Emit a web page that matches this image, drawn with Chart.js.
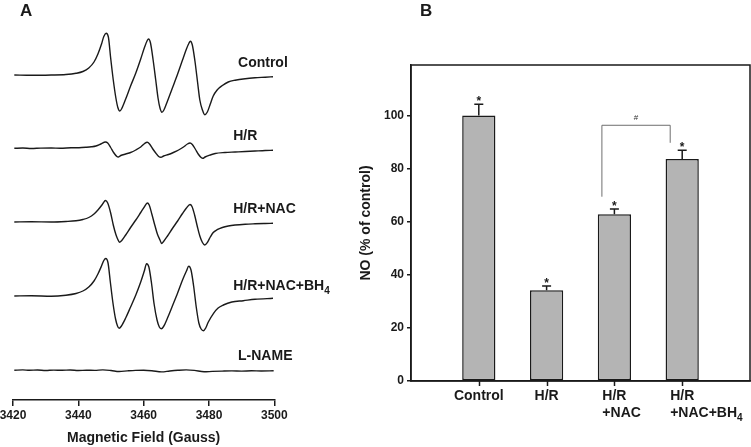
<!DOCTYPE html>
<html>
<head>
<meta charset="utf-8">
<script src="https://cdn.jsdelivr.net/npm/chart.js@4.4.1/dist/chart.umd.min.js"></script>
<style>
  html, body { margin: 0; padding: 0; background: #fff; }
  #wrap { position: relative; width: 751px; height: 447px; }
  #wrap canvas { position: absolute; left: 0; top: 0; }
</style>
</head>
<body>
<div id="wrap">
  <canvas id="epr" width="751" height="447"></canvas>
  <canvas id="bars" width="751" height="447"></canvas>
</div>
<script>
// ---- Panel A: EPR spectra, [field (G), signal (a.u., from own baseline)]
const fieldTicks = [3420, 3440, 3460, 3480, 3500];
const traceNames = ['Control', 'H/R', 'H/R+NAC', 'H/R+NAC+BH₄', 'L-NAME'];

const controlTrace = [
  [3420.4, 0], [3425.6, -0.3], [3431.7, 0], [3436.2, 0.5], [3439.3, 1.7], [3441.4, 3.5],
  [3443.2, 7], [3444.8, 13], [3446.0, 21], [3447.1, 31], [3447.8, 38.5], [3448.5, 41.7],
  [3449.2, 38], [3449.9, 17], [3450.7, -5], [3451.5, -23], [3452.1, -32.5], [3452.7, -36],
  [3453.3, -33.5], [3454.5, -24], [3456.0, -11], [3457.6, 2], [3459.1, 16], [3460.3, 28],
  [3461.1, 34.5], [3461.5, 36], [3462.1, 32], [3462.9, 15], [3463.7, -5], [3464.4, -23],
  [3465.0, -33], [3465.6, -37.3], [3466.2, -35], [3467.3, -26], [3468.8, -13], [3470.4, 1],
  [3471.9, 15], [3473.1, 26], [3473.9, 32], [3474.3, 33.7], [3474.9, 30], [3475.7, 14],
  [3476.5, -7], [3477.2, -25], [3478.0, -35], [3478.7, -39.7], [3479.5, -37], [3480.4, -29],
  [3481.3, -21], [3482.5, -15], [3484.1, -10.5], [3485.9, -7], [3488.0, -5.2], [3491.1, -3.7],
  [3494.1, -2.8], [3497.2, -2.2], [3499.6, -1.7]
];
const hrTrace = [
  [3420.4, 0], [3423, 0.3], [3425.6, -0.2], [3428.5, 0.2], [3431.7, 0.3], [3434.5, 0],
  [3437.8, 0.5], [3440.2, 0.6], [3442.3, 1], [3444.0, 1.5], [3445.4, 2.3], [3446.9, 4.3],
  [3448.3, 6.3], [3449.0, 5.3], [3449.9, 0.8], [3450.8, -4.2], [3451.8, -8.2], [3452.2, -8.7],
  [3453.0, -7.2], [3454.5, -5.7], [3456.0, -4.2], [3457.6, -1.7], [3459.1, 1.3], [3460.3, 4.8],
  [3461.1, 6], [3461.8, 4.3], [3462.7, -0.2], [3463.7, -4.7], [3464.6, -8.2], [3465.3, -9],
  [3466.1, -7.7], [3467.6, -6.2], [3469.1, -4.2], [3470.7, -1.7], [3472.2, 1.3], [3473.4, 4.3],
  [3474.2, 5.3], [3474.9, 3.8], [3475.8, -0.7], [3476.7, -5.7], [3477.6, -9.2], [3478.1, -10],
  [3478.8, -8.7], [3480.4, -6.7], [3481.9, -5.2], [3484.9, -4.2], [3488.0, -3.7], [3491.1, -3.2],
  [3494.1, -2.7], [3497.2, -2.2], [3499.6, -2]
];
const nacTrace = [
  [3420.4, 0], [3425.6, 0.3], [3431.7, 0], [3436.2, 0.5], [3439.3, 1.2], [3441.4, 2.5],
  [3443.2, 4.5], [3444.8, 8], [3446.0, 12], [3447.1, 16.5], [3447.8, 19.8], [3448.3, 21.5],
  [3449.0, 19], [3449.9, 9], [3450.7, -3], [3451.5, -12.5], [3452.1, -17.5], [3452.6, -20.3],
  [3453.3, -18.5], [3454.5, -13], [3456.0, -5.5], [3457.6, 2], [3459.1, 9.5], [3460.3, 15.5],
  [3461.1, 19], [3461.7, 17], [3462.5, 8], [3463.4, -3], [3464.2, -12], [3465.0, -18],
  [3465.5, -21.5], [3466.1, -19.5], [3467.3, -14], [3468.8, -6.5], [3470.4, 1], [3471.9, 8.5],
  [3473.1, 14], [3474.2, 17.5], [3474.8, 15.5], [3475.6, 7], [3476.4, -4], [3477.2, -14],
  [3478.0, -20.5], [3478.7, -23], [3479.5, -20.5], [3480.4, -15], [3481.3, -10.5], [3482.5, -7.7],
  [3484.1, -5.5], [3485.9, -4], [3488.0, -3], [3491.1, -2.2], [3494.1, -1.8], [3497.2, -1.5],
  [3499.6, -1.3]
];
const bh4Trace = [
  [3420.4, 0], [3425.6, 0.2], [3431.7, -0.2], [3436.2, 0.8], [3439.3, 2.5], [3441.4, 5],
  [3443.2, 9], [3444.8, 15], [3446.0, 22], [3447.1, 30], [3447.8, 35.5], [3448.4, 37.5],
  [3449.1, 33], [3449.8, 14], [3450.6, -7], [3451.4, -23], [3452.0, -30], [3452.5, -32.3],
  [3453.2, -30], [3454.5, -22], [3456.0, -11], [3457.6, 1], [3459.1, 14], [3460.2, 25],
  [3460.9, 32.3], [3461.6, 29], [3462.4, 13], [3463.2, -8], [3464.1, -24], [3464.8, -31],
  [3465.4, -32.7], [3466.1, -30.5], [3467.3, -22], [3468.8, -10], [3470.4, 3], [3471.9, 16],
  [3473.1, 25], [3473.8, 29.7], [3474.5, 26], [3475.3, 10], [3476.1, -11], [3476.9, -27],
  [3477.6, -33], [3478.3, -34.7], [3479.0, -32], [3479.8, -26], [3481.4, -17.3], [3482.8, -12],
  [3484.4, -9], [3487.0, -6], [3490.5, -4.7], [3494.1, -3.3], [3499.6, -2.3]
];
const lnameTrace = [
  [3420.4, 0.3], [3423, 0.6], [3425, 0.2], [3427.5, 0.5], [3430, 0], [3432.5, 0.4],
  [3435, 0.2], [3437.5, 0.5], [3440, 0], [3442.5, 0.3], [3445, 0.1], [3447.5, 0.6],
  [3450, 0], [3452.5, -1], [3455, -0.4], [3457.5, 0.1], [3460, 0.3], [3462.5, -0.2],
  [3465.5, -1.4], [3468, -0.5], [3470.5, 0.2], [3473, 0.6], [3475.5, 0.1], [3478.5, -1.3],
  [3481, -0.9], [3484, -0.6], [3487, -0.4], [3490, -0.6], [3493, -0.3], [3496, -0.5],
  [3499.8, -0.3]
];

// ---- Panel B: NO production
const groups = [['Control'], ['H/R'], ['H/R', '+NAC'], ['H/R', '+NAC+BH₄']];
const noPercent = [100, 34.2, 62.8, 83.6];
const noError = [4.2, 1.6, 2.0, 3.3];
const noTicks = [0, 20, 40, 60, 80, 100];
const bracket = { from: 2, to: 3, level: 96.3, fromEnd: 69.4, toEnd: 89.7, mark: '#' };

// ---- layout / style
const traces = [controlTrace, hrTrace, nacTrace, bh4Trace, lnameTrace];
const traceBaseline = [325, 251.7, 178, 104, 29.5];   // stacking offsets on the hidden y axis
const labelLift = [13.3, 13.3, 14, 11, 15.5];
const labelField = [3488.9, 3487.4, 3487.4, 3487.4, 3488.9];
const ink = '#1a1a1a';
const FAMILY = '"Liberation Sans", Arial, Helvetica, sans-serif';
Chart.defaults.font.family = FAMILY;
Chart.defaults.color = ink;

const SUB = '₀₁₂₃₄₅₆₇₈₉';
function segments(text) {
  const out = [];
  for (const ch of text) {
    const i = SUB.indexOf(ch);
    const sub = i >= 0;
    const c = sub ? String(i) : ch;
    const last = out[out.length - 1];
    if (last && last.sub === sub) last.t += c; else out.push({ t: c, sub });
  }
  return out;
}
function setFont(ctx, size, sub) {
  ctx.font = `bold ${sub ? Math.round(size * 0.72) : size}px ${FAMILY}`;
}
function richWidth(ctx, text, size) {
  let w = 0;
  for (const s of segments(text)) { setFont(ctx, size, s.sub); w += ctx.measureText(s.t).width; }
  return w;
}
function drawRich(ctx, text, x, baseline, size) {
  ctx.textAlign = 'left';
  let cx = x;
  for (const s of segments(text)) {
    setFont(ctx, size, s.sub);
    ctx.fillText(s.t, cx, s.sub ? baseline + size * 0.28 : baseline);
    cx += ctx.measureText(s.t).width;
  }
}

const eprLabels = {
  id: 'eprLabels',
  afterDraw(chart) {
    const { ctx, scales: { x, y } } = chart;
    ctx.save();
    ctx.fillStyle = ink;
    ctx.textBaseline = 'alphabetic';
    traceNames.forEach((name, k) => {
      const px = x.getPixelForValue(labelField[k]);
      const py = y.getPixelForValue(traceBaseline[k] + labelLift[k]) + 5;
      drawRich(ctx, name, px, py, 14);
    });
    ctx.font = `bold 17px ${FAMILY}`;
    ctx.textAlign = 'left';
    ctx.fillText('A', 20, 15.5);
    ctx.restore();
  }
};

new Chart(document.getElementById('epr'), {
  type: 'line',
  data: {
    datasets: traces.map((t, k) => ({
      data: t.map(([f, s]) => ({ x: f, y: s + traceBaseline[k] })),
      borderColor: ink,
      borderWidth: 1.4,
      pointRadius: 0,
      cubicInterpolationMode: 'monotone',
      fill: false
    }))
  },
  options: {
    responsive: false,
    animation: false,
    events: [],
    layout: { padding: { left: 13, top: 20, right: 751 - 274.3, bottom: 0 } },
    plugins: { legend: { display: false }, tooltip: { enabled: false } },
    scales: {
      x: {
        type: 'linear', min: 3420, max: 3500,
        afterBuildTicks: s => { s.ticks = fieldTicks.map(v => ({ value: v })); },
        ticks: { font: { size: 12, weight: 'bold' }, color: ink, padding: 2, callback: v => String(v) },
        grid: { drawOnChartArea: false, tickLength: 6, color: ink, lineWidth: 1.5 },
        border: { display: true, color: ink, width: 1.5 },
        title: { display: true, text: 'Magnetic Field (Gauss)', font: { size: 14, weight: 'bold' }, color: ink, padding: 0 },
        afterFit: s => { s.height = 47; s.paddingLeft = 0; s.paddingRight = 0; }
      },
      y: { display: false, min: 0, max: 380 }
    }
  },
  plugins: [eprLabels]
});

const barExtras = {
  id: 'barExtras',
  afterDraw(chart) {
    const { ctx, chartArea: a, scales: { x, y } } = chart;
    ctx.save();
    // frame
    ctx.strokeStyle = ink;
    ctx.lineWidth = 1.5;
    ctx.strokeRect(a.left, a.top, a.right - a.left, a.bottom - a.top);
    // category tick marks below the axis
    groups.forEach((g, i) => {
      const px = Math.round(x.getPixelForValue(i + 1)) + 0.5;
      ctx.beginPath();
      ctx.moveTo(px, a.bottom);
      ctx.lineTo(px, a.bottom + 5);
      ctx.stroke();
    });
    // error bars + stars
    ctx.fillStyle = ink;
    ctx.textAlign = 'center';
    ctx.textBaseline = 'alphabetic';
    noPercent.forEach((v, i) => {
      const px = x.getPixelForValue(i + 1);
      const top = y.getPixelForValue(v + noError[i]);
      const base = y.getPixelForValue(v);
      ctx.beginPath();
      ctx.moveTo(px, base); ctx.lineTo(px, top);
      ctx.moveTo(px - 4.5, top); ctx.lineTo(px + 4.5, top);
      ctx.stroke();
      ctx.font = `bold 12px ${FAMILY}`;
      ctx.fillText('*', px, top + 1);
    });
    // significance bracket
    const x1 = x.getPixelForValue(bracket.from + 1) - 12.5;
    const x2 = x.getPixelForValue(bracket.to + 1) - 12;
    const yl = y.getPixelForValue(bracket.level);
    ctx.strokeStyle = '#6e6e6e';
    ctx.lineWidth = 1;
    ctx.beginPath();
    ctx.moveTo(x1, y.getPixelForValue(bracket.fromEnd));
    ctx.lineTo(x1, yl); ctx.lineTo(x2, yl);
    ctx.lineTo(x2, y.getPixelForValue(bracket.toEnd));
    ctx.stroke();
    ctx.font = `8px ${FAMILY}`;
    ctx.fillStyle = '#333';
    ctx.fillText(bracket.mark, (x1 + x2) / 2, yl - 5);
    // category labels: first line centred on the tick, next lines aligned to it
    ctx.fillStyle = ink;
    groups.forEach((lines, i) => {
      const px = x.getPixelForValue(i + 1);
      const left = px - richWidth(ctx, lines[0], 14) / 2;
      lines.forEach((ln, j) => drawRich(ctx, ln, left, a.bottom + 19 + j * 17, 14));
    });
    ctx.font = `bold 17px ${FAMILY}`;
    ctx.textAlign = 'left';
    ctx.fillText('B', 420, 15.5);
    ctx.restore();
  }
};

new Chart(document.getElementById('bars'), {
  type: 'bar',
  data: {
    datasets: [{
      data: noPercent.map((v, i) => ({ x: i + 1, y: v })),
      backgroundColor: '#b4b4b4',
      borderColor: ink,
      borderWidth: 1.5,
      borderSkipped: false,
      barPercentage: 0.49,
      categoryPercentage: 1
    }]
  },
  options: {
    responsive: false,
    animation: false,
    events: [],
    layout: { padding: { left: 354, top: 65, right: 1, bottom: 0 } },
    plugins: { legend: { display: false }, tooltip: { enabled: false } },
    scales: {
      x: {
        type: 'linear', min: 0, max: 5, offset: false,
        afterBuildTicks: s => { s.ticks = groups.map((g, i) => ({ value: i + 1 })); },
        ticks: { display: false },
        grid: { display: false },
        border: { display: true, color: ink, width: 1.5 },
        afterFit: s => { s.height = 66; s.paddingLeft = 0; s.paddingRight = 0; }
      },
      y: {
        min: 0, max: 119,
        afterBuildTicks: s => { s.ticks = noTicks.map(v => ({ value: v })); },
        ticks: { font: { size: 12, weight: 'bold' }, color: ink, padding: 3 },
        grid: { drawOnChartArea: false, tickLength: 4, color: ink, lineWidth: 1.5 },
        border: { display: true, color: ink, width: 1.5 },
        title: { display: true, text: 'NO (% of control)', font: { size: 14, weight: 'bold' }, color: ink, padding: { top: 4, bottom: 4 } },
        afterFit: s => { s.width = 57; s.paddingTop = 0; s.paddingBottom = 0; }
      }
    }
  },
  plugins: [barExtras]
});
</script>
</body>
</html>
